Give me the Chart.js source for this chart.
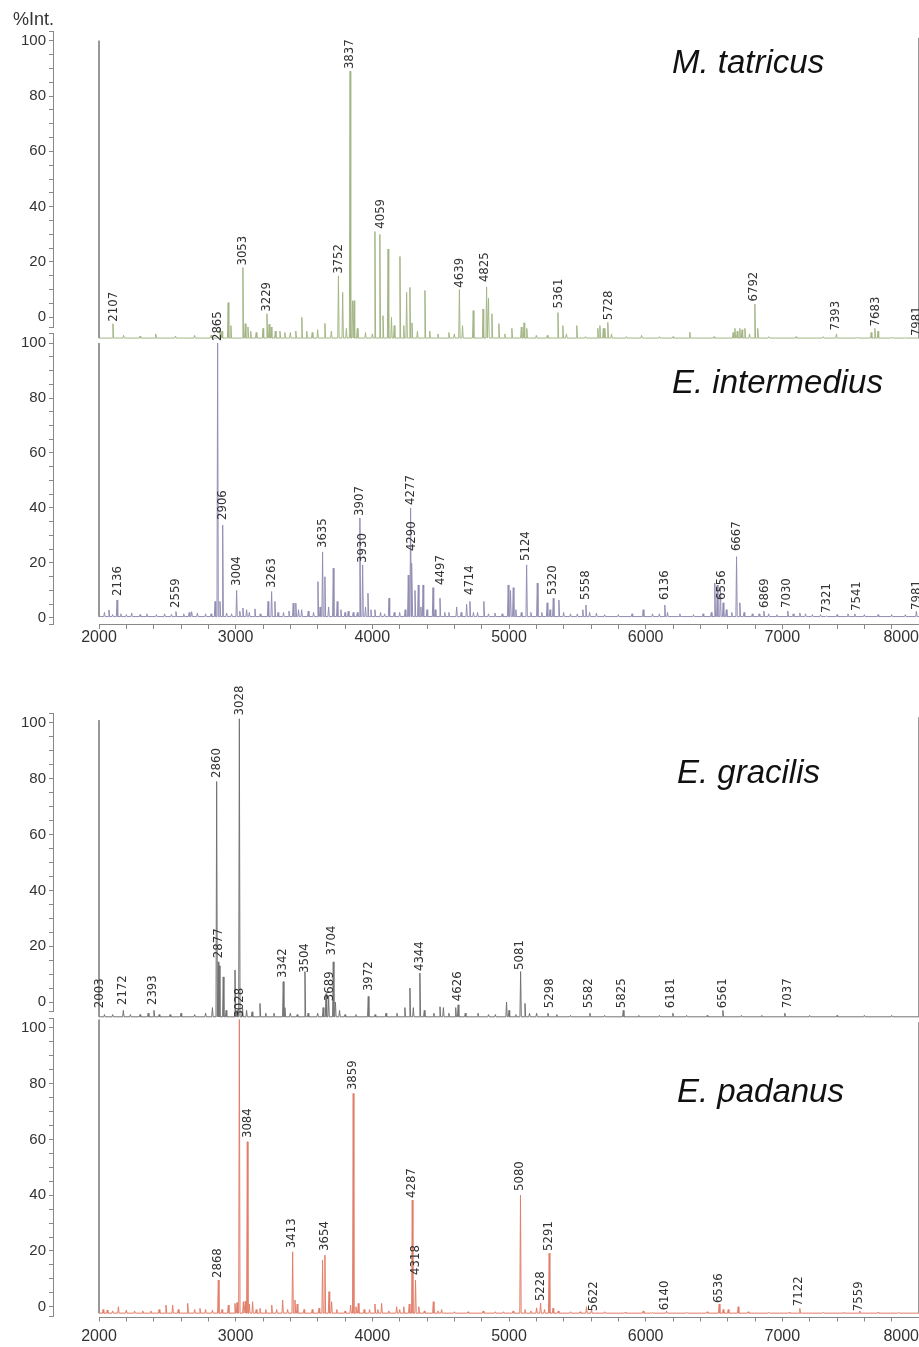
<!DOCTYPE html>
<html>
<head>
<meta charset="utf-8">
<script src="https://cdn.jsdelivr.net/npm/chart.js@4.4.1/dist/chart.umd.min.js"></script>
<style>
body { margin: 0; width: 919px; height: 1347px; position: relative; overflow: hidden; background: #fff;
       font-family: "Liberation Sans", Arial, sans-serif; }
canvas { position: absolute; left: 0; }
.sp { position: absolute; font-style: italic; font-size: 33px; line-height: 33px; color: #111; white-space: nowrap; }
#unit { position: absolute; left: 13px; top: 10px; font-size: 18px; line-height: 18px; color: #333; }
</style>
</head>
<body>
<canvas id="c1" width="919" height="345" style="top:0px"></canvas>
<canvas id="c2" width="919" height="345" style="top:310px"></canvas>
<canvas id="c3" width="919" height="345" style="top:680px"></canvas>
<canvas id="c4" width="919" height="367" style="top:980px"></canvas>
<div id="unit">%Int.</div>
<div class="sp" id="n1" style="left:672px;top:45px"></div>
<div class="sp" id="n2" style="left:672px;top:365px"></div>
<div class="sp" id="n3" style="left:677px;top:755px"></div>
<div class="sp" id="n4" style="left:677px;top:1074px"></div>
<script>
// noms des especes
const speciesNames = ["M. tatricus", "E. intermedius", "E. gracilis", "E. padanus"];

// axes
const xMajorTicks = [2000, 3000, 4000, 5000, 6000, 7000, 8000];
const yMajorTicks = [0, 20, 40, 60, 80, 100];

// M. tatricus : pics [m/z, %Int.], ligne de base, traits de bord
const tatricusBase = -7.5;
const tatricusEdges = [[2000, 100], [8000, 101]];
const tatricusPeaks = [
    [2102, -2.3], [2180, -6.5], [2300, -6.8], [2415, -6], [2560, -6.8], [2700, -6.5],
    [2820, -6.5], [2885, -4], [2900, -5], [2945, 5.3], [2965, -3], [3053, 18], [3070, -2.3],
    [3090, -3.5], [3110, -5], [3150, -5.5], [3200, -4], [3229, 1.3], [3245, -2.5], [3260, -3.5],
    [3290, -5], [3324, -5], [3360, -5.5], [3400, -5.5], [3440, -5], [3484, 0], [3520, -5],
    [3560, -5.5], [3600, -4.5], [3653, -2.2], [3700, -5], [3752, 15], [3783, 9], [3810, -4],
    [3837, 89], [3855, 6], [3866, 6], [3890, -4], [3950, -5.5], [4000, -6], [4019, 31], [4055, 30],
    [4078, 0.6], [4115, 24.7], [4140, 0], [4160, -3], [4202, 22], [4230, -3], [4251, 9],
    [4275, 10.8], [4290, -2], [4330, -5], [4385, 9.7], [4420, -5], [4480, -6], [4560, -5.5],
    [4600, -6], [4637, 10], [4660, -3], [4738, 2.4], [4810, 3], [4836, 11], [4850, 7], [4875, 1.3],
    [4926, -2.3], [4970, -6], [5021, -4], [5090, -3.5], [5110, -2], [5130, -4], [5200, -6.5],
    [5280, -6.5], [5358, 1.7], [5394, -3], [5420, -6], [5496, -3], [5560, -7], [5650, -4],
    [5665, -3], [5690, -4], [5701, -4], [5723, -1.8], [5750, -6], [5860, -7], [5970, -6.5],
    [6100, -7], [6200, -7], [6323, -5.4], [6500, -7], [6640, -5.5], [6653, -4], [6670, -5],
    [6689, -4], [6705, -4.5], [6726, -4], [6760, -6], [6799, 4.8], [6820, -4], [6900, -7],
    [7100, -7], [7300, -7], [7396, -6], [7550, -7.2], [7650, -5.5], [7677, -4], [7700, -5],
    [7800, -7.2], [7900, -7.3]
];
const tatricusLabels = [
    [2107, -2.3], [3053, 18], [3229, 1.3], [3752, 15], [3837, 89], [4059, 31.3], [4639, 10],
    [4825, 12], [5361, 2.5], [5728, -1.8], [6792, 5], [7393, -5.5], [7683, -4], [7981, -7.5]
];

// E. intermedius
const intermediusBase = 0.5;
const intermediusEdges = [[2000, 100]];
const intermediusPeaks = [
    [2040, 2], [2073, 2.9], [2100, 1.2], [2132, 6.5], [2160, 1.5], [2200, 1.2],
    [2239, 1.8], [2300, 1.2], [2350, 1.5], [2420, 1.2], [2480, 1.5], [2530, 1.3], [2563, 2.3],
    [2620, 1.5], [2660, 2], [2678, 2.3], [2720, 1.8], [2780, 1.5], [2820, 1.5], [2849, 6],
    [2868, 100], [2885, 6], [2905, 33.8], [2934, 1.8], [2970, 1.5], [3007, 10], [3030, 2.5],
    [3053, 3.6], [3080, 3], [3100, 2], [3141, 3.3], [3180, 1.5], [3237, 6], [3263, 9.6],
    [3287, 6], [3310, 2], [3350, 2], [3390, 2.5], [3421, 5.4], [3440, 5.4], [3460, 3], [3483, 3],
    [3531, 2.5], [3570, 2], [3602, 13.2], [3618, 4], [3636, 24], [3653, 15], [3680, 4],
    [3714, 18.1], [3743, 6], [3770, 3], [3800, 2], [3824, 2.5], [3860, 2], [3890, 2],
    [3909, 36.4], [3929, 19.3], [3950, 4], [3968, 9], [3990, 3], [4019, 3], [4060, 2],
    [4090, 1.5], [4122, 7.2], [4160, 2], [4200, 2], [4240, 3], [4263, 15.6], [4280, 40],
    [4290, 20], [4312, 10], [4336, 12], [4355, 4], [4371, 12], [4400, 3], [4444, 11], [4460, 3],
    [4495, 7.2], [4530, 2], [4560, 2], [4617, 4], [4650, 2], [4690, 5], [4714, 6], [4740, 2],
    [4770, 2], [4816, 6], [4850, 1.5], [4897, 1.8], [4950, 1.5], [4994, 12], [5011, 10],
    [5031, 11], [5050, 3], [5090, 2], [5129, 19.3], [5160, 2], [5207, 12.7], [5240, 2],
    [5279, 5.5], [5300, 3], [5324, 7.2], [5365, 6.5], [5400, 2], [5450, 1.5], [5500, 1.5],
    [5540, 3], [5563, 4.7], [5590, 2], [5640, 1.8], [5700, 1.2], [5800, 1.2], [5900, 1.5],
    [5982, 3], [6050, 1.5], [6100, 1.5], [6140, 4.7], [6160, 2], [6250, 1.5], [6350, 1.2],
    [6420, 1.5], [6480, 2], [6506, 12.7], [6524, 12], [6547, 11], [6567, 5.5], [6590, 3],
    [6630, 2], [6665, 22.3], [6689, 5.5], [6720, 2], [6780, 1.5], [6830, 1.5], [6865, 2.5],
    [6900, 1.5], [6960, 1.2], [7040, 2.5], [7080, 1.5], [7128, 1.8], [7170, 1.5], [7220, 1.2],
    [7280, 1.2], [7323, 0.8], [7400, 1.2], [7480, 1.5], [7530, 1.5], [7600, 1.2], [7700, 1.2],
    [7800, 1.2], [7900, 1.2], [7981, 2.5]
];
const intermediusLabels = [
    [2136, 7.3], [2559, 2.9], [2865, 100], [2906, 34.9], [3004, 10.9], [3263, 10.2], [3635, 24.7],
    [3907, 36.4], [3930, 19.3], [4277, 40.4], [4290, 23.6], [4497, 11.3], [4714, 7.6], [5124, 20],
    [5320, 7.6], [5558, 5.8], [6136, 5.8], [6556, 5.8], [6667, 23.6], [6869, 2.9], [7030, 2.9],
    [7321, 1.1], [7541, 1.8], [7981, 2.2]
];

// E. gracilis
const gracilisBase = -5.3;
const gracilisEdges = [[2000, 101], [8000, 102]];
const gracilisPeaks = [
    [2040, -4.5], [2100, -4.5], [2178, -3], [2230, -4.5], [2300, -4.5], [2360, -4],
    [2402, -3], [2440, -4.5], [2520, -4.5], [2600, -4], [2700, -4.5], [2780, -4], [2830, -2],
    [2861, 79], [2873, 14.4], [2880, 13], [2909, 9], [2930, -3], [2995, 11.5], [3010, -3],
    [3027, 101.5], [3050, -2], [3080, -3], [3120, -3.5], [3178, -0.5], [3220, -4], [3280, -4],
    [3348, 7.3], [3360, -2], [3400, -4], [3450, -4.5], [3507, 10.9], [3530, -4], [3600, -4],
    [3640, -2], [3661, 3], [3680, 2], [3714, 14.4], [3730, 0], [3760, -3], [3800, -4.5],
    [3880, -4.5], [3970, 2], [4020, -4.5], [4100, -4], [4180, -4], [4238, -2], [4275, 5],
    [4300, -2], [4348, 10.4], [4380, -3], [4450, -4], [4495, -1.7], [4520, -2], [4560, -4],
    [4610, -2], [4628, -1], [4680, -4], [4773, -4], [4850, -4.5], [4900, -4.5], [4982, 0],
    [5000, -3], [5050, -4.5], [5085, 10.9], [5117, -0.5], [5150, -4], [5202, -4], [5285, -4],
    [5350, -4.5], [5450, -4.8], [5592, -4], [5700, -4.8], [5836, -3], [5950, -4.8], [6100, -4.8],
    [6199, -4], [6300, -4.8], [6450, -4.8], [6565, -3], [6700, -4.8], [6850, -4.8], [7018, -4],
    [7200, -4.8], [7400, -4.8], [7600, -4.8], [7800, -4.8]
];
const gracilisLabels = [
    [2003, -2.9], [2172, -1.8], [2393, -1.8], [2860, 79.6], [2877, 15], [3028, 102], [3342, 7.9],
    [3504, 9.7], [3689, -0.4], [3704, 16], [3972, 3.2], [4344, 10.4], [4626, -0.4], [5081, 10.8],
    [5298, -2.9], [5582, -2.9], [5825, -2.9], [6181, -2.9], [6561, -2.9], [7037, -2.9]
];

// E. padanus
const padanusBase = -2.3;
const padanusEdges = [[2000, 103], [8000, 102]];
const padanusPeaks = [
    [2030, -1], [2060, -1.2], [2100, -1.5], [2142, 0], [2200, -1.2], [2260, -1.5],
    [2320, -1.5], [2380, -1.5], [2440, -1], [2490, 0.6], [2539, 0.6], [2580, -1], [2649, 1.2],
    [2700, -1], [2739, -0.6], [2780, -1], [2830, -1.2], [2873, 9.6], [2900, -1], [2946, 0.6],
    [2995, 1.2], [3010, 1.5], [3027, 103], [3056, 1.8], [3070, 2], [3085, 59.2], [3100, 1],
    [3124, 1.8], [3150, -1], [3178, -0.6], [3220, -1], [3264, 0.6], [3300, -1], [3344, 2.4],
    [3380, -1], [3417, 19.7], [3434, 2.4], [3450, 1], [3500, -1], [3560, -1], [3610, -0.5],
    [3636, 16.8], [3653, 18.5], [3683, 5.4], [3702, 1.8], [3740, -1], [3800, -1.5], [3841, 0.6],
    [3860, 76.5], [3880, 0], [3897, 1.2], [3940, -1], [3980, -1], [4019, 1], [4040, -1],
    [4068, 1.2], [4120, -1.5], [4178, 0], [4200, -1], [4230, 0], [4270, 1], [4292, 38.3],
    [4316, 9.6], [4340, 0], [4380, -1.5], [4446, 1.8], [4480, -1.5], [4507, -1], [4600, -1.8],
    [4700, -1.8], [4811, -1.5], [4900, -1.8], [4960, -1.8], [5030, -1.5], [5084, 40], [5117, -1],
    [5160, -1.5], [5202, -0.4], [5231, 1.3], [5260, -1], [5294, 19.2], [5322, -0.5], [5360, -1.5],
    [5450, -1.8], [5520, -1.8], [5567, 0], [5604, -1], [5700, -1.8], [5850, -2], [5982, -1.5],
    [6050, -2], [6153, -1.5], [6300, -2], [6450, -1.8], [6538, 1], [6567, -1], [6604, -1],
    [6677, 0], [6750, -1.8], [6900, -2], [7050, -2], [7128, -0.6], [7300, -2], [7450, -2],
    [7567, -1.5], [7700, -2], [7850, -2]
];
const padanusLabels = [
    [2868, 9.6], [3028, 103], [3084, 59.8], [3413, 20.3], [3654, 19.3], [3859, 77], [4287, 38.3],
    [4318, 10.7], [5080, 40.8], [5228, 1.3], [5291, 19.3], [5622, -2.3], [6140, -2], [6536, 0.6],
    [7122, -0.5], [7559, -2.3]
];

// un pic = pied gauche, sommet, pied droit
function spectre(pics, base) {
    const pts = [{ x: 2000, y: base }];
    pics.forEach(p => {
        pts.push({ x: p[0] - 5, y: base });
        pts.push({ x: p[0], y: p[1] });
        pts.push({ x: p[0] + 5, y: base });
    });
    pts.push({ x: 8000, y: base });
    pts.sort((a, b) => a.x - b.x);
    return pts;
}

// traits verticaux aux bords (gris)
function bords(edges, base) {
    const pts = [];
    edges.forEach(e => {
        pts.push({ x: e[0], y: e[1] }, { x: e[0], y: base }, { x: e[0], y: null });
    });
    return pts;
}

// etiquettes verticales + ligne de l'axe x
function etiquettes(labels, axeX) {
    return {
        id: 'etiquettes',
        afterDatasetsDraw(chart) {
            const { ctx, scales: { x, y }, chartArea } = chart;
            ctx.save();
            ctx.font = '13px "Liberation Sans Narrow", "DejaVu Sans Condensed", sans-serif';
            ctx.fillStyle = '#333';
            ctx.textAlign = 'left';
            ctx.textBaseline = 'middle';
            labels.forEach(([mz, v]) => {
                ctx.save();
                ctx.translate(x.getPixelForValue(mz), y.getPixelForValue(v) - 2);
                ctx.rotate(-Math.PI / 2);
                ctx.fillText(String(mz), 0, 0);
                ctx.restore();
            });
            if (axeX) {
                const yy = Math.round(chartArea.bottom) + 0.5;
                ctx.strokeStyle = '#888';
                ctx.lineWidth = 1;
                ctx.beginPath();
                ctx.moveTo(x.getPixelForValue(2000), yy);
                ctx.lineTo(chartArea.right, yy);
                ctx.stroke();
            }
            ctx.restore();
        }
    };
}

const X_MIN = 1663.4;

function panneau(id, pics, base, edges, labels, couleur, yMin, padTop, padBottom, axeX, hauteurX, padLabel) {
    const yTicks = [yMin];
    for (let v = 0; v <= 100; v += 5) yTicks.push(v);
    yTicks.push(103.5);
    const xTicks = [X_MIN];
    for (let v = 2000; v <= 8000; v += 200) xTicks.push(v);

    new Chart(document.getElementById(id), {
        type: 'line',
        data: {
            datasets: [{
                data: bords(edges, base),
                borderColor: '#8a8a8a',
                borderWidth: 1,
                pointRadius: 0,
                spanGaps: false,
                clip: false
            }, {
                data: spectre(pics, base),
                borderColor: couleur,
                borderWidth: 1,
                pointRadius: 0,
                tension: 0,
                clip: false
            }]
        },
        options: {
            responsive: false,
            animation: false,
            events: [],
            layout: { padding: { top: padTop, bottom: padBottom, left: 0, right: 0 } },
            plugins: { legend: { display: false }, tooltip: { enabled: false } },
            scales: {
                x: {
                    type: 'linear',
                    display: axeX,
                    min: X_MIN,
                    max: 8000,
                    afterBuildTicks: s => { s.ticks = xTicks.map(v => ({ value: v })); },
                    afterFit: s => { s.height = hauteurX; s.paddingLeft = 0; s.paddingRight = 0; },
                    border: { display: false },
                    grid: {
                        drawOnChartArea: false,
                        tickLength: 5,
                        tickColor: c => (c.tick && c.tick.value < 2000) ? 'rgba(0,0,0,0)' : '#888'
                    },
                    ticks: {
                        autoSkip: false,
                        maxRotation: 0,
                        align: 'inner',
                        padding: padLabel,
                        color: '#333',
                        font: { family: '"Liberation Sans", Arial, sans-serif', size: 16, lineHeight: 1 },
                        callback: v => xMajorTicks.includes(v) ? String(v) : ''
                    }
                },
                y: {
                    min: yMin,
                    max: 103.5,
                    afterBuildTicks: s => { s.ticks = yTicks.map(v => ({ value: v })); },
                    afterFit: s => { s.width = 53; s.paddingTop = 0; s.paddingBottom = 0; },
                    border: { display: true, color: '#888' },
                    grid: { drawOnChartArea: false, tickLength: 4, tickColor: '#888' },
                    ticks: {
                        autoSkip: false,
                        padding: 3,
                        color: '#333',
                        font: { family: '"Liberation Sans", Arial, sans-serif', size: 15 },
                        callback: v => yMajorTicks.includes(v) ? String(v) : ''
                    }
                }
            }
        },
        plugins: [etiquettes(labels, axeX)]
    });
}

panneau('c1', tatricusPeaks, tatricusBase, tatricusEdges, tatricusLabels, '#a3b585', -3.5, 31, 18, false, 0, 0);
panneau('c2', intermediusPeaks, intermediusBase, intermediusEdges, intermediusLabels, '#918db3', -2.2, 23.4, 0, true, 31, 1);
panneau('c3', gracilisPeaks, gracilisBase, gracilisEdges, gracilisLabels, '#727272', -3.5, 33.2, 13.2, false, 0, 0);
panneau('c4', padanusPeaks, padanusBase, padanusEdges, padanusLabels, '#e27d68', -3.5, 38.2, 0, true, 30.5, 7);

speciesNames.forEach((n, i) => {
    document.getElementById('n' + (i + 1)).textContent = n;
});
</script>
</body>
</html>
